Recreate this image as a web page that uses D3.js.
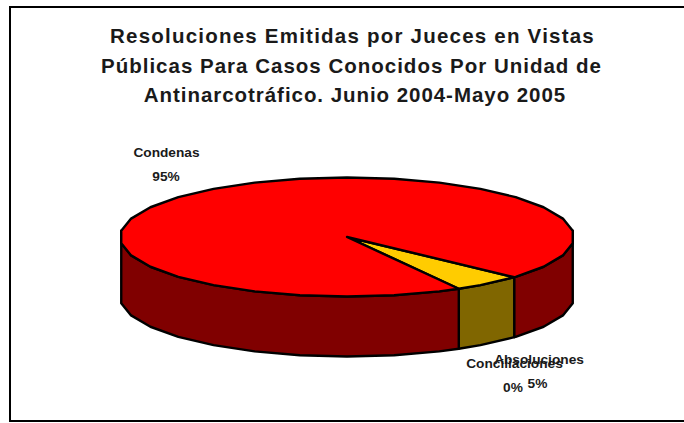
<!DOCTYPE html>
<html><head><meta charset="utf-8">
<script src="https://cdn.jsdelivr.net/npm/d3@7"></script>
<style>html,body{margin:0;padding:0;background:#fff;overflow:hidden}svg{display:block}text{font-family:"Liberation Sans",Arial,sans-serif;font-weight:bold;fill:#1a1a1a}</style>
</head><body><svg id="c" width="684" height="423"></svg>
<script>
const titleLines = ["Resoluciones Emitidas por Jueces en Vistas","Públicas Para Casos Conocidos Por Unidad de","Antinarcotráfico. Junio 2004-Mayo 2005"];
const categories = ["Absoluciones","Condenas","Conciliaciones"];
const values = [5,95,0];
const percentLabels = ["5%","95%","0%"];
const topColors = ["#FFCC00","#FF0000","#FFFFFF"];
const sideColors = ["#806600","#800000","#808080"];
const cx=347,cy=237,rx=227,ry=59.5,depth=60,deg=Math.PI/180,facet=12*deg;
const svg=d3.select("#c");
svg.append("rect").attr("x",10).attr("y",7).attr("width",690).attr("height",414).attr("fill","#fff").attr("stroke","#000").attr("stroke-width",2);
const start=132.5*deg;
const arcs=d3.pie().sort(null).startAngle(start).endAngle(start+2*Math.PI)(values);
const px=a=>cx+rx*Math.sin(a), py=a=>cy-ry*Math.cos(a);
const line=d3.line();
// faceted outline: wedge ends plus every facet vertex between them
const samples=(a,b)=>{
  const out=[a];
  for(let k=Math.floor(a/facet)+1;k*facet<b-1e-6;k++) out.push(k*facet);
  out.push(b);
  return out;
};
const stroke=s=>s.attr("stroke","#000").attr("stroke-width",2.4).attr("stroke-linejoin","round");
// side walls: front half only
const lo=84*deg, hi=276*deg;
arcs.forEach((d,i)=>{
  if(d.value===0) return;
  [0,2*Math.PI].forEach(sh=>{
    const a=Math.max(d.startAngle,lo+sh), b=Math.min(d.endAngle,hi+sh);
    if(b<=a) return;
    const s=samples(a,b);
    const pts=s.map(t=>[px(t),py(t)]).concat(s.slice().reverse().map(t=>[px(t),py(t)+depth]));
    svg.append("path").attr("d",line(pts)+"Z").attr("fill",sideColors[i]).call(stroke);
  });
});
// top faces
arcs.forEach((d,i)=>{
  if(d.value===0) return;
  const pts=[[cx,cy]].concat(samples(d.startAngle,d.endAngle).map(t=>[px(t),py(t)]));
  svg.append("path").attr("d",line(pts)+"Z").attr("fill",topColors[i]).call(stroke);
});
// title
const titleY=[43,73,102], titleX=[352.5,351.5,355], titleSpacing=[1.22,1,0.95];
titleLines.forEach((t,i)=>svg.append("text").attr("x",titleX[i]).attr("y",titleY[i]).attr("text-anchor","middle").attr("font-size",20.5).attr("letter-spacing",titleSpacing[i]).text(t));
// data labels
const labelX=[539,166.5,514.5], pctX=[537.5,166,513], nameY=[364,157,368], pctY=[388,181,392];
categories.forEach((c,i)=>{
  svg.append("text").attr("x",labelX[i]).attr("y",nameY[i]).attr("text-anchor","middle").attr("font-size",13.7).text(c);
  svg.append("text").attr("x",pctX[i]).attr("y",pctY[i]).attr("text-anchor","middle").attr("font-size",13.7).text(percentLabels[i]);
});
</script></body></html>
